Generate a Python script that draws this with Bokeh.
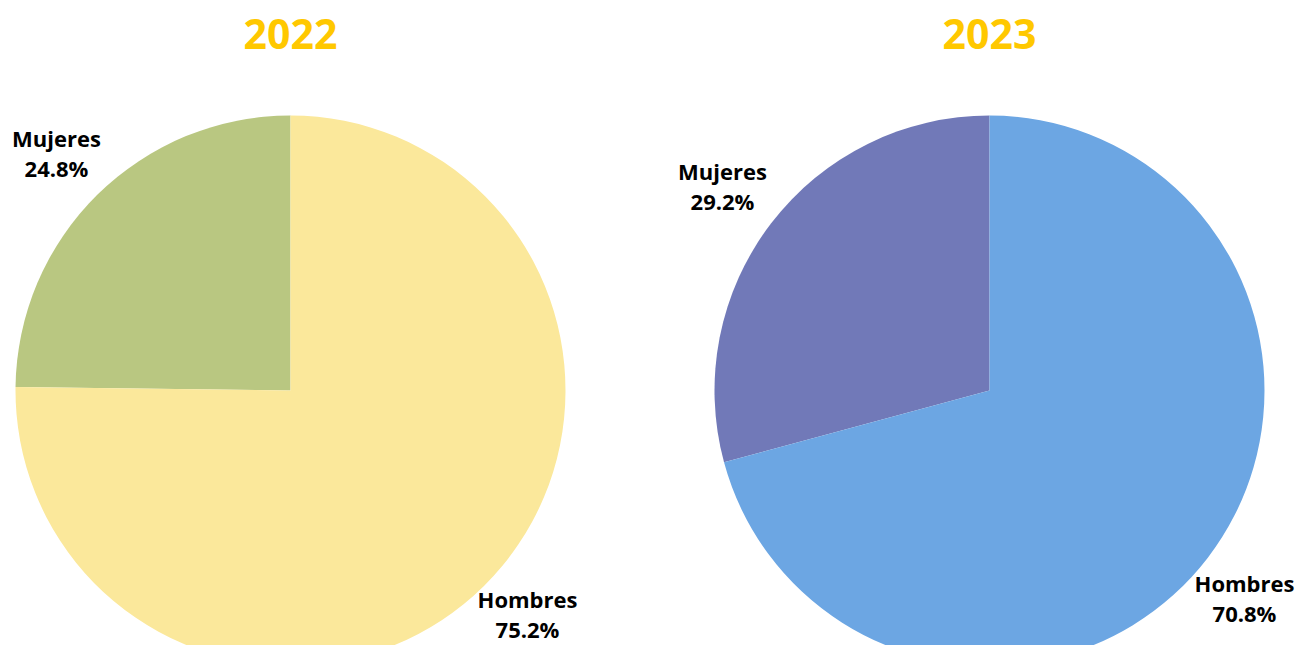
import math
from bokeh.plotting import figure
from bokeh.models import Range1d, ColumnDataSource
from bokeh.core.properties import value
from bokeh.embed import file_html
from bokeh.resources import INLINE

# ---- data ----
years = ["2022", "2023"]
categories = ["Mujeres", "Hombres"]
shares_2022 = [24.8, 75.2]
shares_2023 = [29.2, 70.8]
colors_2022 = ["#B9C781", "#FBE89B"]
colors_2023 = ["#7179B8", "#6CA6E3"]

W, H = 1298, 645
p = figure(width=W, height=H, output_backend="svg", toolbar_location=None,
           x_range=Range1d(0, W), y_range=Range1d(0, H), min_border=0,
           tools="")
p.axis.visible = False
p.grid.visible = False
p.outline_line_color = None
p.background_fill_color = "white"
p.border_fill_color = "white"

R = 275
centers = [(290, H - 390), (989, H - 390)]
# label anchor points (center x, first-line y from top)
label_pos = [
    {"Mujeres": (56, 137), "Hombres": (527, 598)},
    {"Mujeres": (722, 170), "Hombres": (1244, 582)},
]

for (cx, cy), year, shares, cols, lp in zip(
        centers, years, [shares_2022, shares_2023], [colors_2022, colors_2023], label_pos):
    starts, ends = [], []
    a = math.pi / 2
    for s in shares:
        da = s / 100 * 2 * math.pi
        starts.append(a)
        ends.append(a + da)
        a += da
    src = ColumnDataSource(dict(x=[cx] * len(shares), y=[cy] * len(shares),
                                start=starts, end=ends, color=cols))
    p.wedge(x="x", y="y", radius=R, start_angle="start", end_angle="end",
            fill_color="color", line_color=None, source=src)
    # title
    p.text(x=[cx], y=[H - 33], text=[year], text_align="center", text_baseline="middle",
           text_font=value("Open Sans"), text_font_style="bold", text_font_size="41px",
           text_color="#FFC800")
    for cat, s in zip(categories, shares):
        lx, ly = lp[cat]
        p.text(x=[lx, lx], y=[H - ly, H - ly - 30], text=[cat, f"{s:.1f}%"],
               text_align="center", text_baseline="middle",
               text_font=value("Open Sans"), text_font_style="bold",
               text_font_size="22px", text_color="#000000")

open("out.html", "w").write(file_html(p, INLINE))
